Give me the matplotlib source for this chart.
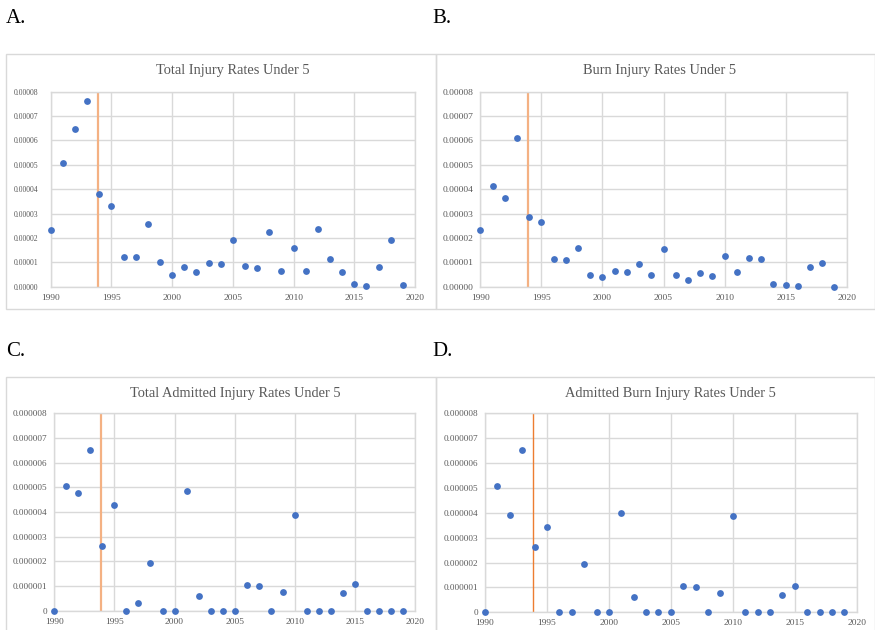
import matplotlib
matplotlib.use("Agg")
import matplotlib.pyplot as plt
from matplotlib.ticker import FixedLocator, FuncFormatter
from matplotlib.patches import Rectangle

years = list(range(1990, 2020))

total_injury = [2.33e-5, 5.06e-5, 6.47e-5, 7.62e-5, 3.80e-5, 3.32e-5, 1.23e-5, 1.22e-5,
                2.56e-5, 1.01e-5, 0.47e-5, 0.82e-5, 0.62e-5, 0.96e-5, 0.93e-5, 1.93e-5,
                0.86e-5, 0.77e-5, 2.24e-5, 0.64e-5, 1.60e-5, 0.66e-5, 2.35e-5, 1.12e-5,
                0.59e-5, 0.11e-5, 0.03e-5, 0.81e-5, 1.93e-5, 0.07e-5]

burn_injury = [2.34e-5, 4.14e-5, 3.63e-5, 6.12e-5, 2.84e-5, 2.66e-5, 1.15e-5, 1.09e-5,
               1.58e-5, 0.49e-5, 0.41e-5, 0.63e-5, 0.61e-5, 0.94e-5, 0.46e-5, 1.53e-5,
               0.49e-5, 0.29e-5, 0.58e-5, 0.44e-5, 1.27e-5, 0.59e-5, 1.17e-5, 1.13e-5,
               0.10e-5, 0.08e-5, 0.03e-5, 0.79e-5, 0.97e-5, 0.0]

admitted_total = [0.0, 5.06e-6, 4.78e-6, 6.53e-6, 2.62e-6, 4.30e-6, 0.0, 0.32e-6,
                  1.93e-6, 0.0, 0.0, 4.86e-6, 0.61e-6, 0.0, 0.0, 0.0,
                  1.04e-6, 1.01e-6, 0.0, 0.77e-6, 3.86e-6, 0.0, 0.0, 0.0,
                  0.70e-6, 1.07e-6, 0.0, 0.0, 0.0, 0.0]

admitted_burn = [0.0, 5.07e-6, 3.93e-6, 6.53e-6, 2.63e-6, 3.44e-6, 0.0, 0.0,
                 1.93e-6, 0.0, 0.0, 3.98e-6, 0.62e-6, 0.0, 0.0, 0.0,
                 1.05e-6, 1.02e-6, 0.0, 0.78e-6, 3.86e-6, 0.0, 0.0, 0.0,
                 0.70e-6, 1.07e-6, 0.0, 0.0, 0.0, 0.0]

titles = ["Total Injury Rates Under 5", "Burn Injury Rates Under 5",
          "Total Admitted Injury Rates Under 5", "Admitted Burn Injury Rates Under 5"]
panel_labels = ["A.", "B.", "C.", "D."]
x_ticks = [1990, 1995, 2000, 2005, 2010, 2015, 2020]
y_ticks_big = [i * 1e-5 for i in range(9)]
y_ticks_small = [i * 1e-6 for i in range(9)]
marker_year = 1993.9

W, H = 875, 630
plt.rcParams['font.family'] = ['Liberation Serif', 'DejaVu Serif']
fig = plt.figure(figsize=(W / 100, H / 100), dpi=100)

GRID = '#D9D9D9'
TXT = '#595959'
BLUE = '#4472C4'

def fbox(x0, y0, x1, y1):
    return [x0 / W, 1 - y1 / H, (x1 - x0) / W, (y1 - y0) / H]

# panel frames
for (x0, y0, x1, y1) in [(6, 54, 436, 309), (436, 54, 875, 309),
                         (6, 377, 436, 631), (436, 377, 875, 631)]:
    fig.patches.append(Rectangle((x0 / W, 1 - y1 / H), (x1 - x0) / W, (y1 - y0) / H,
                                 transform=fig.transFigure, fill=False,
                                 edgecolor=GRID, linewidth=1.0, zorder=0))

panels = [
    dict(data=total_injury, box=(50.7, 91.7, 415, 286.7), yt=y_ticks_big, small=False,
         title_xy=(232.5, 70.7), lab_xy=(6, 23), ypad=9.0, yfs=5.6, vcol='#F4B183', vlw=1.6),
    dict(data=burn_injury, box=(480.3, 91.7, 846.7, 286.7), yt=y_ticks_big, small=False,
         title_xy=(659.3, 70.7), lab_xy=(432, 23), ypad=5.0, yfs=6.8, vcol='#F4B183', vlw=1.6),
    dict(data=admitted_total, box=(54.3, 413.3, 415, 610.7), yt=y_ticks_small, small=True,
         title_xy=(235, 393.3), lab_xy=(6, 356), ypad=5.0, yfs=6.6, vcol='#F4B183', vlw=1.6),
    dict(data=admitted_burn, box=(485, 413.3, 856.7, 612.3), yt=y_ticks_small, small=True,
         title_xy=(670.7, 393.3), lab_xy=(432, 356), ypad=5.0, yfs=6.6, vcol='#ED7D31', vlw=1.0),
]

def fmt_big(v, pos):
    return f"{v:.5f}"

def fmt_small(v, pos):
    if abs(v) < 1e-12:
        return "0"
    return f"{v:.6f}"

for i, p in enumerate(panels):
    ax = fig.add_axes(fbox(*p['box']))
    ax.set_xlim(1990, 2020)
    ax.set_ylim(0, p['yt'][-1])
    ax.xaxis.set_major_locator(FixedLocator(x_ticks))
    ax.yaxis.set_major_locator(FixedLocator(p['yt']))
    ax.yaxis.set_major_formatter(FuncFormatter(fmt_small if p['small'] else fmt_big))
    ax.grid(True, color=GRID, linewidth=1.0, zorder=0)
    ax.set_axisbelow(True)
    for s in ax.spines.values():
        s.set_color(GRID)
        s.set_linewidth(1.0)
    ax.tick_params(axis='x', length=0, pad=5, labelsize=6.8, labelcolor=TXT)
    ax.tick_params(axis='y', length=0, pad=p['ypad'], labelsize=p['yfs'], labelcolor=TXT)
    ax.axvline(marker_year, color=p['vcol'], linewidth=p['vlw'], zorder=2)
    ax.scatter(years, p['data'], s=24, color=BLUE, zorder=3, clip_on=False, linewidths=0)
    tx, ty = p['title_xy']
    fig.text(tx / W, 1 - ty / H, titles[i], ha='center', va='center',
             fontsize=10.4, color=TXT)
    lx, ly = p['lab_xy']
    fig.text(lx / W, 1 - ly / H, panel_labels[i], ha='left', va='baseline',
             fontsize=15, color='black')

fig.savefig("out.png", dpi=100)
